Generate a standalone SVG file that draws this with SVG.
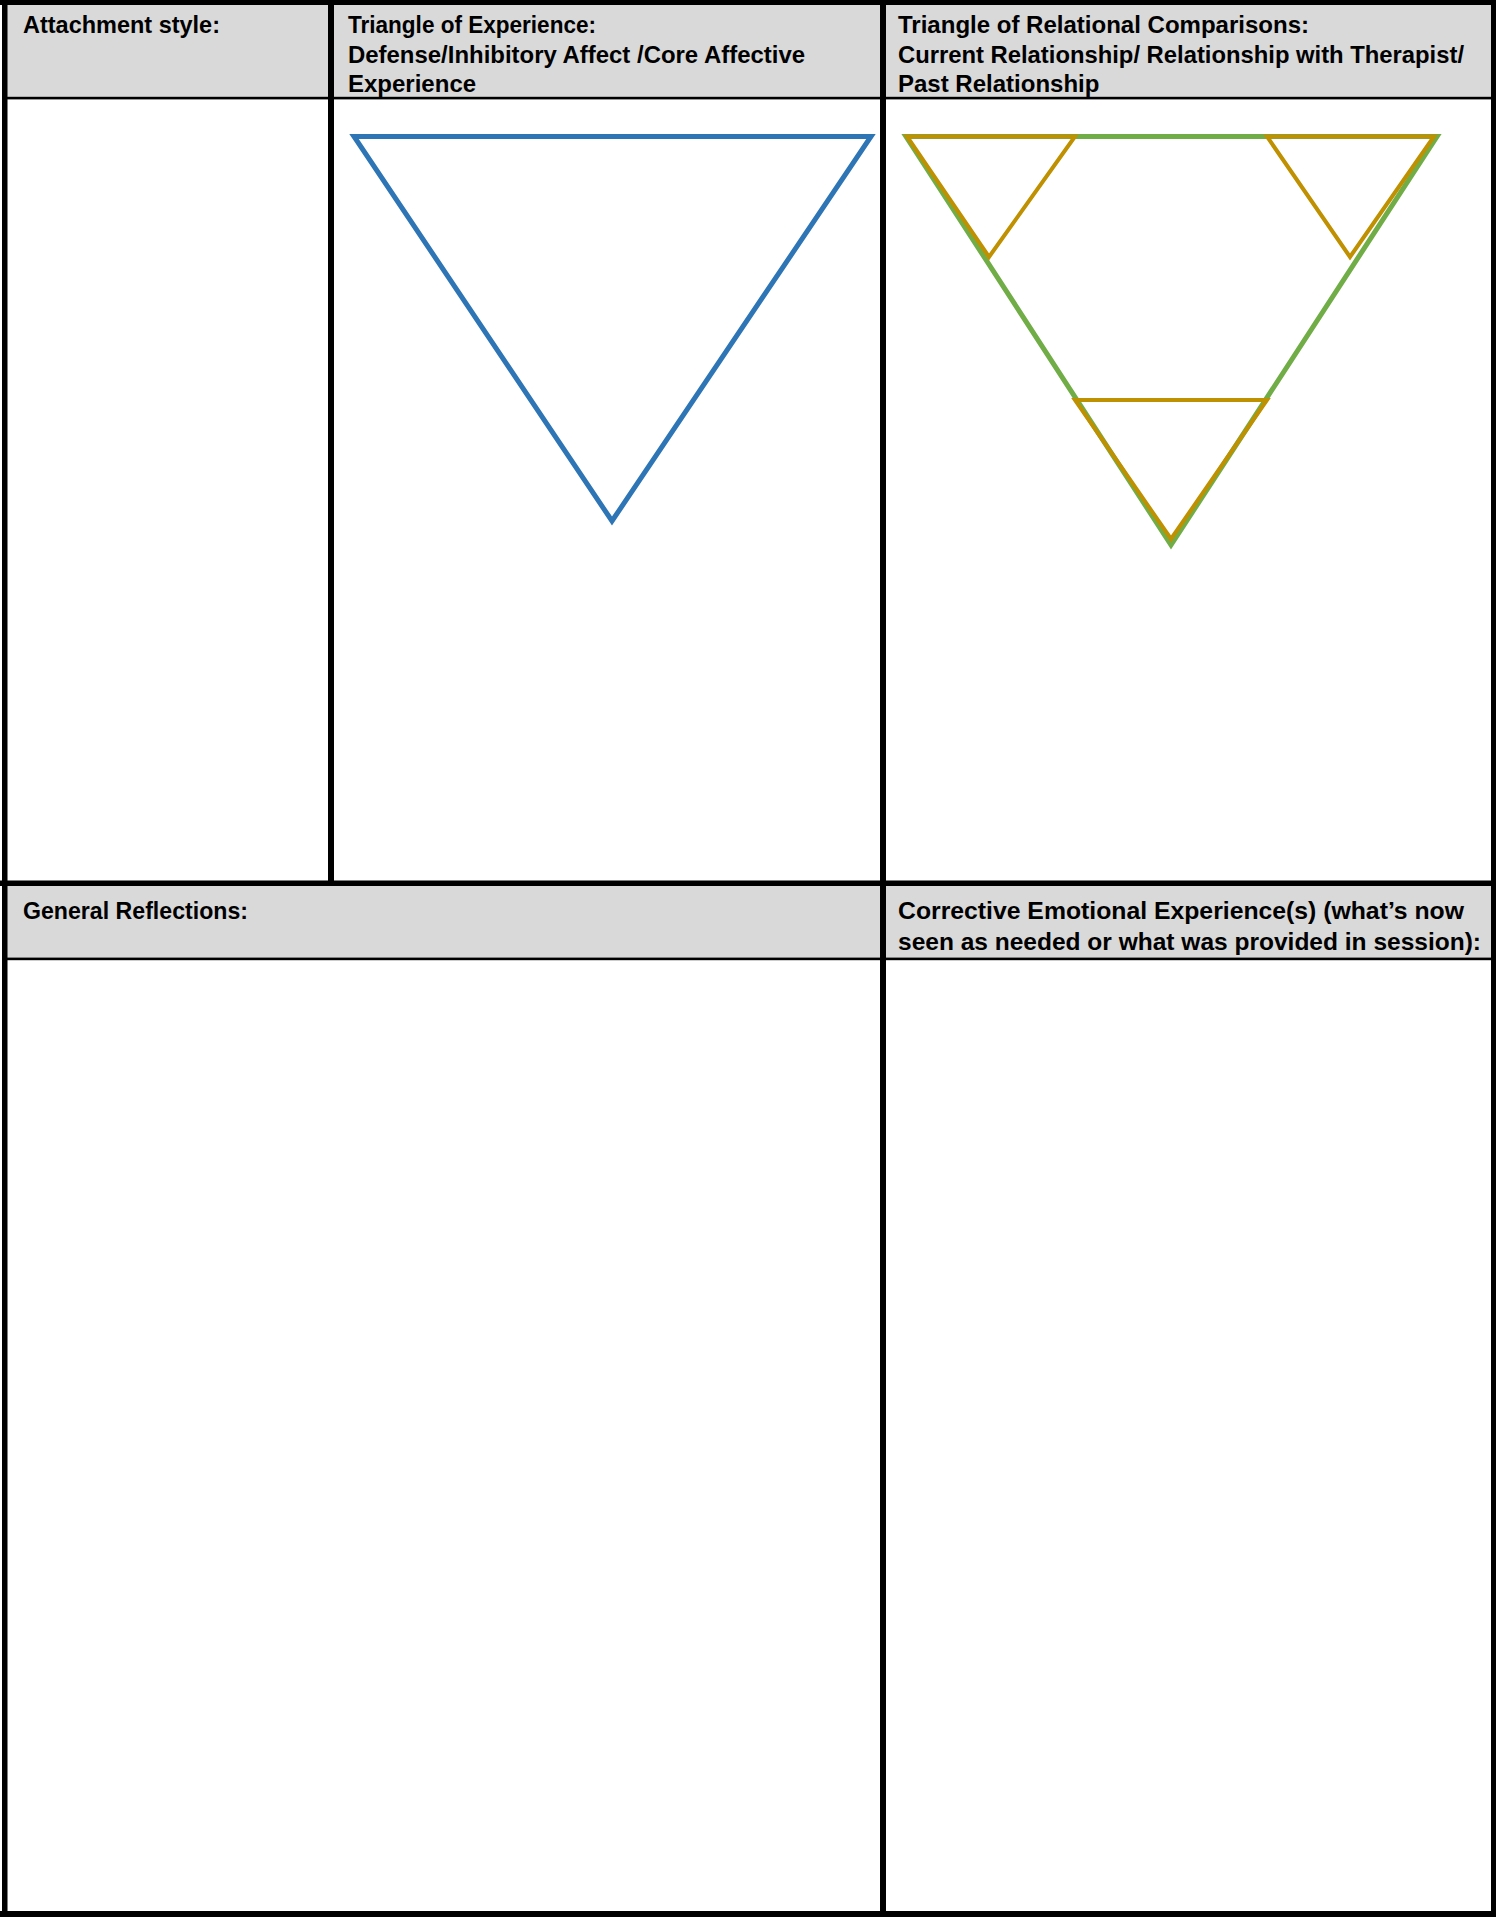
<svg xmlns="http://www.w3.org/2000/svg" width="1496" height="1917" viewBox="0 0 1496 1917">
<style>
.hdr{fill:#d9d9d9}
.rule{fill:#000}
.t{font-family:"Liberation Sans",Arial,sans-serif;font-weight:bold;font-size:24px;fill:#000}
.blue{fill:none;stroke:#2e75b6;stroke-width:5;stroke-linejoin:miter}
.green{fill:none;stroke:#70ad47;stroke-width:5;stroke-linejoin:miter}
.gold{fill:none;stroke:#bf9000;stroke-width:4;stroke-linejoin:miter}
</style>
<rect x="0" y="0" width="1496" height="1917" fill="#fff"/>
<g id="table">
  <rect class="hdr" x="7" y="5" width="1484" height="92"/>
  <rect class="hdr" x="7" y="886" width="1484" height="72"/>
  <rect class="rule" x="7" y="96.8" width="1484" height="2.6"/>
  <rect class="rule" x="7" y="957.6" width="1484" height="2.6"/>
  <rect class="rule" x="0" y="0" width="1496" height="5"/>
  <rect class="rule" x="0" y="1911" width="1496" height="6"/>
  <rect class="rule" x="2" y="0" width="5.5" height="1917"/>
  <rect class="rule" x="1491" y="0" width="5" height="1917"/>
  <rect class="rule" x="328" y="0" width="6" height="883"/>
  <rect class="rule" x="880" y="0" width="6" height="1917"/>
  <rect class="rule" x="0" y="880.5" width="1496" height="5.5"/>
</g>
<g id="cell-attachment">
  <text class="t" x="23" y="33" textLength="197" lengthAdjust="spacingAndGlyphs">Attachment style:</text>
</g>
<g id="cell-experience">
  <text class="t" x="348" y="33" textLength="248" lengthAdjust="spacingAndGlyphs">Triangle of Experience:</text>
  <text class="t" x="348" y="63" textLength="457" lengthAdjust="spacingAndGlyphs">Defense/Inhibitory Affect /Core Affective</text>
  <text class="t" x="348" y="92">Experience</text>
</g>
<g id="cell-relational">
  <text class="t" x="898" y="33" textLength="411" lengthAdjust="spacingAndGlyphs">Triangle of Relational Comparisons:</text>
  <text class="t" x="898" y="63" textLength="566" lengthAdjust="spacingAndGlyphs">Current Relationship/ Relationship with Therapist/</text>
  <text class="t" x="898" y="92">Past Relationship</text>
</g>
<g id="cell-reflections">
  <text class="t" x="23" y="919" textLength="225" lengthAdjust="spacingAndGlyphs">General Reflections:</text>
</g>
<g id="cell-corrective">
  <text class="t" x="898" y="919" textLength="566" lengthAdjust="spacingAndGlyphs">Corrective Emotional Experience(s) (what’s now</text>
  <text class="t" x="898" y="950" textLength="583" lengthAdjust="spacingAndGlyphs">seen as needed or what was provided in session):</text>
</g>
<g id="triangle-experience">
  <polygon class="blue" points="354,136.5 871,136.5 612,521"/>
</g>
<g id="triangle-relational">
  <polygon class="green" points="906,136.5 1437,136.5 1171,545"/>
  <polygon class="gold" points="907,136.5 1075,136.5 989,257"/>
  <polygon class="gold" points="1267,136.5 1434,136.5 1350,257"/>
  <polygon class="gold" points="1075,400 1267,400 1171,539"/>
</g>
</svg>
